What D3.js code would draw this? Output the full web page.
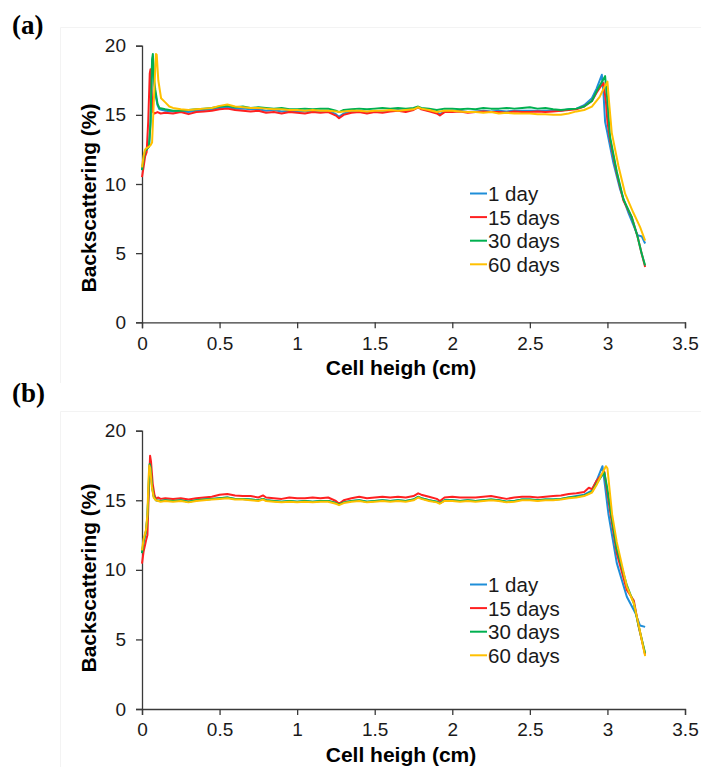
<!DOCTYPE html>
<html>
<head>
<meta charset="utf-8">
<script src="https://cdn.jsdelivr.net/npm/d3@7"></script>
<style>
  body { margin: 0; background: #fff; }
  svg { display: block; }
</style>
</head>
<body>
<div id="chart"></div>
<script>
// legend names and colours
const seriesNames = ["1 day", "15 days", "30 days", "60 days"];
const seriesColors = ["#1f8ed8", "#ff2020", "#00b050", "#ffc000"];
const xTicks = [0, 0.5, 1, 1.5, 2, 2.5, 3, 3.5];
const yTicks = [0, 5, 10, 15, 20];

// panel (a) — [cell height cm, backscattering %]
const a1Day = [[0,11.0],[0.01,11.7],[0.02,12.3],[0.03,12.5],[0.045,12.7],[0.055,14.3],[0.065,18.8],[0.07,19.2],[0.078,17.3],[0.086,16.5],[0.1,15.7],[0.112,15.4],[0.15,15.3],[0.2,15.25],[0.25,15.25],[0.3,15.2],[0.35,15.3],[0.4,15.35],[0.45,15.4],[0.5,15.5],[0.55,15.55],[0.6,15.45],[0.65,15.45],[0.7,15.4],[0.75,15.4],[0.8,15.3],[0.85,15.35],[0.9,15.25],[0.95,15.3],[1.0,15.25],[1.05,15.25],[1.1,15.3],[1.15,15.25],[1.2,15.3],[1.25,15.05],[1.27,14.85],[1.3,15.1],[1.35,15.25],[1.4,15.3],[1.45,15.2],[1.5,15.3],[1.55,15.25],[1.6,15.3],[1.65,15.35],[1.7,15.3],[1.75,15.4],[1.78,15.55],[1.8,15.45],[1.85,15.3],[1.9,15.2],[1.92,15.05],[1.95,15.25],[2.0,15.3],[2.05,15.3],[2.1,15.2],[2.15,15.25],[2.2,15.3],[2.25,15.25],[2.3,15.3],[2.35,15.25],[2.4,15.3],[2.45,15.3],[2.5,15.3],[2.55,15.3],[2.6,15.3],[2.65,15.3],[2.7,15.3],[2.75,15.4],[2.8,15.45],[2.85,15.7],[2.9,16.2],[2.93,16.9],[2.964,17.9],[2.975,16.5],[2.985,14.5],[2.996,13.9],[3.039,11.5],[3.082,9.6],[3.136,7.9],[3.194,6.3],[3.222,6.2],[3.243,5.7]];
const a15Days = [[0,10.5],[0.01,11.2],[0.02,12.0],[0.03,12.3],[0.04,14.5],[0.05,18.0],[0.055,18.3],[0.06,17.0],[0.07,15.2],[0.08,15.1],[0.1,15.2],[0.12,15.1],[0.15,15.15],[0.2,15.1],[0.25,15.2],[0.3,15.05],[0.35,15.2],[0.4,15.25],[0.45,15.3],[0.5,15.4],[0.55,15.45],[0.6,15.35],[0.65,15.3],[0.7,15.25],[0.75,15.3],[0.8,15.15],[0.85,15.2],[0.9,15.1],[0.95,15.2],[1.0,15.15],[1.05,15.1],[1.1,15.2],[1.15,15.15],[1.2,15.2],[1.25,14.95],[1.27,14.75],[1.3,15.0],[1.35,15.15],[1.4,15.2],[1.45,15.1],[1.5,15.2],[1.55,15.15],[1.6,15.25],[1.65,15.3],[1.7,15.2],[1.75,15.35],[1.78,15.55],[1.8,15.4],[1.85,15.25],[1.9,15.1],[1.92,14.95],[1.95,15.2],[2.0,15.2],[2.05,15.25],[2.1,15.15],[2.15,15.2],[2.2,15.25],[2.25,15.2],[2.3,15.2],[2.35,15.15],[2.4,15.25],[2.45,15.2],[2.5,15.2],[2.55,15.25],[2.6,15.2],[2.65,15.25],[2.7,15.3],[2.75,15.35],[2.8,15.4],[2.85,15.6],[2.9,16.0],[2.93,16.6],[2.96,17.1],[2.975,17.3],[2.99,16.0],[3.0,14.5],[3.017,13.2],[3.06,10.8],[3.103,8.8],[3.157,7.6],[3.194,6.2],[3.22,5.0],[3.243,4.0]];
const a30Days = [[0,11.0],[0.01,11.8],[0.02,12.4],[0.03,12.5],[0.045,12.7],[0.055,14.5],[0.065,19.0],[0.07,19.4],[0.078,17.5],[0.086,16.8],[0.1,15.8],[0.112,15.5],[0.15,15.4],[0.2,15.3],[0.25,15.3],[0.3,15.35],[0.35,15.4],[0.4,15.45],[0.45,15.5],[0.5,15.6],[0.55,15.65],[0.6,15.55],[0.65,15.6],[0.7,15.5],[0.75,15.55],[0.8,15.5],[0.85,15.45],[0.9,15.5],[0.95,15.4],[1.0,15.4],[1.05,15.45],[1.1,15.4],[1.15,15.45],[1.2,15.45],[1.25,15.3],[1.27,15.2],[1.3,15.35],[1.35,15.4],[1.4,15.45],[1.45,15.4],[1.5,15.45],[1.55,15.5],[1.6,15.45],[1.65,15.5],[1.7,15.45],[1.75,15.5],[1.78,15.6],[1.8,15.5],[1.85,15.45],[1.9,15.35],[1.95,15.45],[2.0,15.45],[2.05,15.4],[2.1,15.45],[2.15,15.4],[2.2,15.5],[2.25,15.45],[2.3,15.45],[2.35,15.5],[2.4,15.45],[2.45,15.5],[2.5,15.55],[2.55,15.45],[2.6,15.5],[2.65,15.4],[2.7,15.35],[2.75,15.4],[2.8,15.45],[2.85,15.6],[2.9,16.0],[2.93,16.7],[2.96,17.3],[2.985,17.8],[3.0,16.0],[3.017,13.4],[3.06,10.9],[3.103,8.9],[3.157,7.6],[3.194,6.2],[3.22,5.0],[3.243,4.1]];
const a60Days = [[0,11.2],[0.01,12.0],[0.02,12.5],[0.03,12.6],[0.045,12.7],[0.055,12.8],[0.065,13.0],[0.08,17.0],[0.09,19.4],[0.095,19.35],[0.105,17.5],[0.123,16.2],[0.15,15.9],[0.176,15.6],[0.2,15.5],[0.25,15.4],[0.3,15.35],[0.35,15.4],[0.4,15.45],[0.45,15.5],[0.5,15.65],[0.55,15.75],[0.6,15.6],[0.65,15.55],[0.7,15.5],[0.75,15.5],[0.8,15.45],[0.85,15.4],[0.9,15.4],[0.95,15.35],[1.0,15.35],[1.05,15.3],[1.1,15.35],[1.15,15.3],[1.2,15.3],[1.25,15.25],[1.27,15.2],[1.3,15.25],[1.35,15.3],[1.4,15.3],[1.45,15.25],[1.5,15.3],[1.55,15.3],[1.6,15.35],[1.65,15.3],[1.7,15.35],[1.75,15.4],[1.78,15.55],[1.8,15.45],[1.85,15.35],[1.9,15.2],[1.95,15.3],[2.0,15.3],[2.05,15.25],[2.1,15.2],[2.15,15.2],[2.2,15.15],[2.25,15.2],[2.3,15.1],[2.35,15.15],[2.4,15.1],[2.45,15.1],[2.5,15.1],[2.55,15.05],[2.6,15.05],[2.65,15.0],[2.7,15.0],[2.75,15.1],[2.8,15.25],[2.85,15.35],[2.9,15.6],[2.95,16.3],[2.98,17.0],[3.0,17.4],[3.01,16.0],[3.028,13.7],[3.071,11.3],[3.114,9.3],[3.168,7.9],[3.21,6.9],[3.243,5.9]];

// panel (b)
const b1Day = [[0,11.2],[0.01,12.0],[0.026,12.8],[0.035,13.9],[0.045,16.6],[0.05,17.6],[0.055,17.4],[0.065,16.0],[0.075,15.3],[0.09,15.0],[0.12,14.95],[0.15,15.0],[0.2,14.95],[0.25,15.0],[0.3,14.9],[0.35,15.0],[0.4,15.05],[0.45,15.1],[0.5,15.15],[0.55,15.2],[0.6,15.1],[0.65,15.1],[0.7,15.05],[0.75,15.0],[0.78,15.1],[0.8,15.0],[0.85,14.95],[0.9,14.9],[0.95,14.95],[1.0,14.9],[1.05,14.95],[1.1,14.9],[1.15,14.95],[1.2,14.95],[1.25,14.8],[1.27,14.7],[1.3,14.85],[1.35,14.95],[1.4,15.0],[1.45,14.9],[1.5,14.95],[1.55,15.0],[1.6,14.95],[1.65,15.0],[1.7,14.95],[1.75,15.05],[1.78,15.25],[1.8,15.15],[1.85,15.0],[1.9,14.9],[1.92,14.8],[1.95,15.0],[2.0,15.0],[2.05,14.95],[2.1,15.0],[2.15,14.95],[2.2,15.0],[2.25,15.05],[2.3,15.0],[2.35,14.9],[2.4,14.95],[2.45,15.05],[2.5,15.05],[2.55,15.0],[2.6,15.05],[2.65,15.05],[2.7,15.1],[2.75,15.2],[2.8,15.3],[2.85,15.4],[2.9,15.7],[2.93,16.4],[2.968,17.45],[2.985,16.0],[3.006,14.05],[3.06,10.5],[3.125,8.07],[3.18,6.9],[3.21,6.0],[3.243,5.9]];
const b15Days = [[0,10.45],[0.01,11.3],[0.026,12.1],[0.035,12.5],[0.045,16.0],[0.052,18.2],[0.058,17.8],[0.069,16.2],[0.08,15.4],[0.09,15.1],[0.103,15.2],[0.12,15.1],[0.15,15.15],[0.2,15.1],[0.25,15.15],[0.3,15.05],[0.35,15.15],[0.4,15.2],[0.45,15.25],[0.5,15.4],[0.55,15.45],[0.6,15.35],[0.65,15.3],[0.7,15.3],[0.75,15.2],[0.78,15.35],[0.8,15.2],[0.85,15.15],[0.9,15.1],[0.95,15.2],[1.0,15.15],[1.05,15.15],[1.1,15.2],[1.15,15.15],[1.2,15.2],[1.25,14.95],[1.27,14.75],[1.3,15.0],[1.35,15.15],[1.4,15.25],[1.45,15.15],[1.5,15.2],[1.55,15.25],[1.6,15.2],[1.65,15.25],[1.7,15.2],[1.75,15.3],[1.78,15.5],[1.8,15.4],[1.85,15.25],[1.9,15.1],[1.92,14.95],[1.95,15.2],[2.0,15.25],[2.05,15.2],[2.1,15.2],[2.15,15.2],[2.2,15.25],[2.25,15.3],[2.3,15.2],[2.35,15.1],[2.4,15.2],[2.45,15.25],[2.5,15.25],[2.55,15.2],[2.6,15.25],[2.65,15.3],[2.7,15.35],[2.75,15.45],[2.8,15.5],[2.85,15.6],[2.88,15.9],[2.9,15.8],[2.93,16.4],[2.96,16.8],[2.98,17.05],[3.0,15.5],[3.02,14.0],[3.06,11.2],[3.125,8.55],[3.17,7.8],[3.2,6.0],[3.243,3.9]];
const b30Days = [[0,11.2],[0.01,12.0],[0.026,12.8],[0.035,13.8],[0.045,16.5],[0.05,17.6],[0.055,17.4],[0.065,16.0],[0.075,15.3],[0.09,15.0],[0.12,14.95],[0.15,15.0],[0.2,14.95],[0.25,15.0],[0.3,14.9],[0.35,15.0],[0.4,15.05],[0.45,15.1],[0.5,15.15],[0.55,15.2],[0.6,15.1],[0.65,15.1],[0.7,15.05],[0.75,15.0],[0.78,15.1],[0.8,15.0],[0.85,14.95],[0.9,14.9],[0.95,14.95],[1.0,14.9],[1.05,14.95],[1.1,14.9],[1.15,14.95],[1.2,14.95],[1.25,14.8],[1.27,14.7],[1.3,14.85],[1.35,14.95],[1.4,15.0],[1.45,14.9],[1.5,14.95],[1.55,15.0],[1.6,14.95],[1.65,15.0],[1.7,14.95],[1.75,15.05],[1.78,15.25],[1.8,15.15],[1.85,15.0],[1.9,14.9],[1.92,14.8],[1.95,15.0],[2.0,15.0],[2.05,14.95],[2.1,15.0],[2.15,14.95],[2.2,15.0],[2.25,15.05],[2.3,15.0],[2.35,14.9],[2.4,14.95],[2.45,15.05],[2.5,15.05],[2.55,15.0],[2.6,15.05],[2.65,15.05],[2.7,15.1],[2.75,15.2],[2.8,15.25],[2.85,15.35],[2.88,15.5],[2.9,15.6],[2.93,16.2],[2.96,16.7],[2.98,17.0],[3.0,15.8],[3.02,14.3],[3.06,11.5],[3.125,8.9],[3.17,7.6],[3.2,6.0],[3.243,4.0]];
const b60Days = [[0,11.4],[0.01,12.2],[0.026,12.9],[0.035,14.0],[0.042,16.5],[0.047,17.5],[0.053,17.3],[0.063,16.0],[0.075,15.2],[0.09,15.0],[0.12,14.9],[0.15,14.95],[0.2,14.9],[0.25,14.95],[0.3,14.85],[0.35,14.95],[0.4,15.0],[0.45,15.05],[0.5,15.1],[0.55,15.15],[0.6,15.05],[0.65,15.05],[0.7,15.0],[0.75,14.95],[0.78,15.05],[0.8,14.95],[0.85,14.9],[0.9,14.85],[0.95,14.9],[1.0,14.85],[1.05,14.9],[1.1,14.85],[1.15,14.9],[1.2,14.9],[1.25,14.75],[1.27,14.65],[1.3,14.8],[1.35,14.9],[1.4,14.95],[1.45,14.85],[1.5,14.9],[1.55,14.95],[1.6,14.9],[1.65,14.95],[1.7,14.9],[1.75,15.0],[1.78,15.2],[1.8,15.1],[1.85,14.95],[1.9,14.85],[1.92,14.75],[1.95,14.95],[2.0,14.95],[2.05,14.9],[2.1,14.95],[2.15,14.9],[2.2,14.95],[2.25,15.0],[2.3,14.95],[2.35,14.85],[2.4,14.9],[2.45,15.0],[2.5,15.0],[2.55,14.95],[2.6,15.0],[2.65,15.0],[2.7,15.05],[2.75,15.15],[2.8,15.2],[2.85,15.3],[2.88,15.45],[2.9,15.55],[2.93,16.1],[2.96,16.8],[2.99,17.45],[3.0,17.3],[3.03,14.0],[3.06,12.0],[3.125,8.8],[3.17,7.6],[3.2,6.1],[3.243,3.8]];

const width = 701, height = 767;
const fontSans = "'Liberation Sans', Arial, sans-serif";

const svg = d3.select("#chart").append("svg")
  .attr("width", width)
  .attr("height", height);

const panels = [
  { label: "(a)", labelY: 34, data: [a1Day, a15Days, a30Days, a60Days],
    top: 45.7, bottom: 322.3, frameY: 27, frameH: 356, legendY: 193.5, yTitleY: 198 },
  { label: "(b)", labelY: 402, data: [b1Day, b15Days, b30Days, b60Days],
    top: 430.7, bottom: 709, frameY: 411, frameH: 400, legendY: 584.5, yTitleY: 578 }
];

panels.forEach(p => {
  const g = svg.append("g");

  // very faint chart-area frame (left and top edges only)
  g.append("path")
    .attr("d", `M60.5,${p.frameY + p.frameH}V${p.frameY + 0.5}H701`)
    .attr("fill", "none")
    .attr("stroke", "#f3f3f3");

  g.append("text")
    .attr("x", 12)
    .attr("y", p.labelY)
    .attr("font-family", "'Liberation Serif', 'Times New Roman', serif")
    .attr("font-weight", "bold")
    .attr("font-size", 27)
    .text(p.label);

  const x = d3.scaleLinear().domain([0, 3.5]).range([142, 685]);
  const y = d3.scaleLinear().domain([0, 20]).range([p.bottom, p.top]);

  // axes
  const xAxis = g.append("g")
    .attr("transform", `translate(0,${p.bottom})`)
    .call(d3.axisBottom(x).tickValues(xTicks).tickSize(6).tickPadding(8).tickFormat(d3.format("")));
  const yAxis = g.append("g")
    .attr("transform", "translate(142,0)")
    .call(d3.axisLeft(y).tickValues(yTicks).tickSize(6).tickPadding(10));

  [xAxis, yAxis].forEach(ax => {
    ax.select(".domain").attr("stroke", "#3a3a3a").attr("stroke-width", 1.3);
    ax.selectAll(".tick line").attr("stroke", "#3a3a3a").attr("stroke-width", 1.3);
    ax.selectAll(".tick text")
      .attr("font-family", fontSans)
      .attr("font-size", 19)
      .attr("fill", "#1a1a1a");
  });

  // axis titles
  g.append("text")
    .attr("x", 401)
    .attr("y", p.bottom + 53)
    .attr("text-anchor", "middle")
    .attr("font-family", fontSans)
    .attr("font-weight", "bold")
    .attr("font-size", 21)
    .text("Cell heigh (cm)");

  g.append("text")
    .attr("transform", `translate(96,${p.yTitleY}) rotate(-90)`)
    .attr("text-anchor", "middle")
    .attr("font-family", fontSans)
    .attr("font-weight", "bold")
    .attr("font-size", 21)
    .text("Backscattering (%)");

  // series lines
  const line = d3.line()
    .x(d => x(d[0]))
    .y(d => y(d[1]));

  g.selectAll("path.series")
    .data(p.data)
    .enter().append("path")
    .attr("class", "series")
    .attr("fill", "none")
    .attr("stroke", (d, i) => seriesColors[i])
    .attr("stroke-width", 2)
    .attr("stroke-linejoin", "round")
    .attr("d", line);

  // legend
  const leg = g.selectAll("g.legend")
    .data(seriesNames)
    .enter().append("g")
    .attr("class", "legend")
    .attr("transform", (d, i) => `translate(470,${p.legendY + i * 23.6})`);

  leg.append("line")
    .attr("x1", 0).attr("x2", 17)
    .attr("stroke", (d, i) => seriesColors[i])
    .attr("stroke-width", 2);

  leg.append("text")
    .attr("x", 18)
    .attr("y", 7.5)
    .attr("font-family", fontSans)
    .attr("font-size", 20.5)
    .attr("fill", "#1a1a1a")
    .text(d => d);
});
</script>
</body>
</html>
